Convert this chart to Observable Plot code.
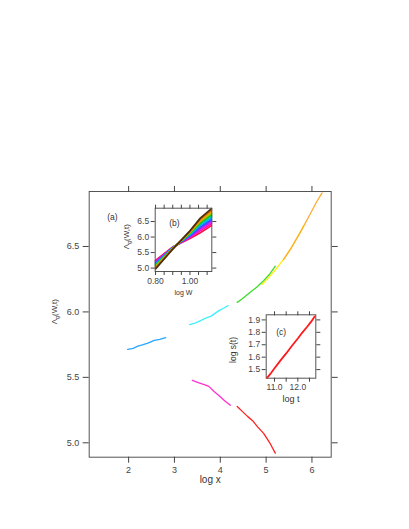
<!DOCTYPE html>
<html>
<head>
<meta charset="utf-8">
<script src="https://cdn.jsdelivr.net/npm/d3@7"></script>
<script src="https://cdn.jsdelivr.net/npm/@observablehq/plot@0.6"></script>
<style>
  html, body { margin: 0; padding: 0; background: #fff; }
  #wrap { position: relative; width: 409px; height: 529px; font-family: "Liberation Sans", Arial, sans-serif; }
  #wrap svg { position: absolute; overflow: visible; }
</style>
</head>
<body>
<div id="wrap"></div>
<script>
// ---------- main panel (a) ----------
const mainXTicks = [2, 3, 4, 5, 6];
const mainYTicks = [5.0, 5.5, 6.0, 6.5];

const blueX = [1.98, 2.10, 2.20, 2.30, 2.42, 2.56, 2.68, 2.81];
const blueY = [5.714, 5.722, 5.738, 5.748, 5.762, 5.783, 5.790, 5.803];
const cyanX = [3.33, 3.45, 3.58, 3.68, 3.80, 3.97, 4.08, 4.17];
const cyanY = [5.903, 5.915, 5.935, 5.953, 5.968, 6.010, 6.030, 6.048];
const greenX = [4.37, 4.48, 4.58, 4.66, 4.80, 4.95, 5.08, 5.20];
const greenY = [6.073, 6.100, 6.130, 6.152, 6.190, 6.240, 6.290, 6.349];
const yellowX = [4.91, 5.05, 5.20, 5.42, 5.60, 5.82];
const yellowY = [6.210, 6.260, 6.320, 6.420, 6.520, 6.660];
const orangeX = [5.38, 5.55, 5.75, 5.95, 6.10, 6.22];
const orangeY = [6.400, 6.490, 6.610, 6.740, 6.840, 6.910];
const magentaX = [3.39, 3.52, 3.65, 3.75, 3.87, 3.97, 4.10, 4.22];
const magentaY = [5.477, 5.460, 5.445, 5.431, 5.390, 5.362, 5.320, 5.286];
const redX = [4.37, 4.48, 4.60, 4.70, 4.82, 4.95, 5.09, 5.20];
const redY = [5.278, 5.240, 5.200, 5.171, 5.120, 5.070, 4.993, 4.921];

const mainSeries = [
  {name: "blue", xs: blueX, ys: blueY, color: "#2aa6ff"},
  {name: "cyan", xs: cyanX, ys: cyanY, color: "#3ff0ff"},
  {name: "green", xs: greenX, ys: greenY, color: "#3ddc2a"},
  {name: "yellow", xs: yellowX, ys: yellowY, color: "#ffee10"},
  {name: "orange", xs: orangeX, ys: orangeY, color: "#ffaa30"},
  {name: "magenta", xs: magentaX, ys: magentaY, color: "#ff30d0"},
  {name: "red", xs: redX, ys: redY, color: "#ff2020"}
];

// ---------- inset (b) ----------
const bX = [0.80, 0.90, 1.00, 1.06, 1.125];
const bAt080 = [5.25, 5.23, 5.20, 5.18, 5.15, 5.13, 5.11, 5.09, 5.07, 5.05, 5.03, 5.01, 4.99, 4.97];
const bAt090 = [5.68, 5.67, 5.67, 5.66, 5.66, 5.65, 5.65, 5.64, 5.64, 5.63, 5.63, 5.62, 5.62, 5.61];
const bAt100 = [5.95, 5.98, 6.01, 6.03, 6.05, 6.07, 6.09, 6.11, 6.13, 6.14, 6.16, 6.17, 6.19, 6.20];
const bAt106 = [6.14, 6.20, 6.25, 6.29, 6.33, 6.37, 6.41, 6.44, 6.47, 6.50, 6.53, 6.56, 6.59, 6.61];
const bAt112 = [6.37, 6.43, 6.48, 6.53, 6.57, 6.62, 6.66, 6.70, 6.74, 6.77, 6.81, 6.85, 6.88, 6.92];
const bColors = ["#ff1040", "#ff10a0", "#e810ff", "#8a30ff", "#2a55ff", "#0a9cff", "#00cccc",
                 "#00c860", "#2cb800", "#9cc800", "#e0b000", "#ff7a00", "#a85a10", "#4a3010"];
const bXTicks = [0.80, 0.85, 0.90, 0.95, 1.00, 1.05, 1.10];
const bXLabels = [0.80, 1.00];
const bYTicks = [5.0, 5.5, 6.0, 6.5];

// ---------- inset (c) ----------
const cT = [10.68, 10.85, 11.00, 11.25, 11.50, 11.75, 12.00, 12.20, 12.40, 12.58, 12.72];
const cS = [1.433, 1.472, 1.510, 1.572, 1.630, 1.692, 1.750, 1.800, 1.845, 1.888, 1.927];
const cXTicks = [11.0, 11.5, 12.0, 12.5];
const cXLabels = [11.0, 12.0];
const cYTicks = [1.5, 1.6, 1.7, 1.8, 1.9];

const FONT = '"Liberation Sans", Arial, sans-serif';
const wrap = document.getElementById("wrap");

function place(svg, left, top) {
  svg.style.left = left + "px";
  svg.style.top = top + "px";
  wrap.appendChild(svg);
  return svg;
}

function addYLabel(svg, cx, cy, size, parts) {
  const t = d3.select(svg).append("text")
    .attr("transform", `translate(${cx},${cy}) rotate(-90)`)
    .attr("text-anchor", "middle")
    .attr("dominant-baseline", "middle")
    .attr("fill", "#333")
    .style("font-size", size + "px")
    .style("font-family", FONT);
  for (const p of parts) {
    const s = t.append("tspan").text(p.text);
    if (p.sub) s.attr("baseline-shift", "sub").style("font-size", (size * 0.7) + "px");
  }
}

const lamParts = [{text: "\u039B"}, {text: "g", sub: true}, {text: "(W,t)"}];

// main
const mainRows = mainSeries.flatMap(s => s.xs.map((x, i) => ({series: s.name, x, y: s.ys[i], color: s.color})));
const main = Plot.plot({
  width: 409, height: 529,
  marginLeft: 88.7, marginRight: 78.3, marginTop: 191, marginBottom: 72.3,
  style: {fontFamily: FONT, fontSize: "9px", color: "#444", background: "transparent"},
  x: {domain: [1.14, 6.42]},
  y: {domain: [4.89, 6.92]},
  marks: [
    Plot.frame({stroke: "#555"}),
    Plot.axisX({anchor: "bottom", ticks: mainXTicks, tickSize: 6, tickPadding: 3, tickFormat: d3.format("d"), label: null}),
    Plot.axisX({anchor: "top", ticks: mainXTicks, tickSize: 6, tickFormat: () => "", label: null}),
    Plot.axisY({anchor: "left", ticks: mainYTicks, tickSize: 6, tickPadding: 4, tickFormat: d3.format(".1f"), label: null}),
    Plot.axisY({anchor: "right", ticks: mainYTicks, tickSize: 6, tickFormat: () => "", label: null}),
    Plot.line(mainRows, {x: "x", y: "y", z: "series", stroke: "color", strokeWidth: 1.3, curve: "linear"}),
    Plot.text(["log x"], {frameAnchor: "bottom", dy: 26, fontSize: 10, fill: "#333"}),
    Plot.text(["(a)"], {frameAnchor: "top-left", dx: 18, dy: 22, fontSize: 8.5, fill: "#333"})
  ]
});
place(main, 0, 0);
addYLabel(main, 55, 311.7, 8, lamParts);

// inset b
const bRows = bColors.flatMap((c, k) => bX.map((x, i) => ({k, x, y: [bAt080, bAt090, bAt100, bAt106, bAt112][i][k], color: c})));
const insetB = Plot.plot({
  width: 110, height: 105,
  marginLeft: 44.7, marginRight: 8.7, marginTop: 7.7, marginBottom: 34,
  style: {fontFamily: FONT, fontSize: "8.5px", color: "#444", background: "transparent"},
  x: {domain: [0.798, 1.127]},
  y: {domain: [4.89, 6.93]},
  marks: [
    Plot.line(bRows, {x: "x", y: "y", z: "k", stroke: "color", strokeWidth: 1.6}),
    Plot.frame({stroke: "#555"}),
    Plot.axisX({anchor: "bottom", ticks: bXTicks, tickSize: 4, tickPadding: 2,
      tickFormat: d => bXLabels.some(v => Math.abs(v - d) < 1e-9) ? d3.format(".2f")(d) : "", label: null}),
    Plot.axisX({anchor: "top", ticks: bXTicks, tickSize: 4, tickFormat: () => "", label: null}),
    Plot.axisY({anchor: "left", ticks: bYTicks, tickSize: 4, tickPadding: 2, tickFormat: d3.format(".1f"), label: null}),
    Plot.axisY({anchor: "right", ticks: bYTicks, tickSize: 4, tickFormat: () => "", label: null}),
    Plot.text(["log W"], {frameAnchor: "bottom", dy: 23, fontSize: 7, fill: "#333"}),
    Plot.text(["(b)"], {frameAnchor: "top-left", dx: 14, dy: 12, fontSize: 8.5, fill: "#333"})
  ]
});
place(insetB, 110, 200);
addYLabel(insetB, 16.7, 36.7, 8, lamParts);

// inset c
const cRows = cT.map((t, i) => ({t, s: cS[i]}));
const insetC = Plot.plot({
  width: 100, height: 110,
  marginLeft: 40.7, marginRight: 9.7, marginTop: 9.3, marginBottom: 37.3,
  style: {fontFamily: FONT, fontSize: "8.5px", color: "#444", background: "transparent"},
  x: {domain: [10.644, 12.77]},
  y: {domain: [1.4306, 1.941]},
  marks: [
    Plot.frame({stroke: "#555"}),
    Plot.axisX({anchor: "bottom", ticks: cXTicks, tickSize: 4, tickPadding: 2,
      tickFormat: d => cXLabels.some(v => Math.abs(v - d) < 1e-9) ? d3.format(".1f")(d) : "", label: null}),
    Plot.axisX({anchor: "top", ticks: cXTicks, tickSize: 4, tickFormat: () => "", label: null}),
    Plot.axisY({anchor: "left", ticks: cYTicks, tickSize: 4, tickPadding: 2, tickFormat: d3.format(".1f"), label: null}),
    Plot.axisY({anchor: "right", ticks: cYTicks, tickSize: 4, tickFormat: () => "", label: null}),
    Plot.line(cRows, {x: "t", y: "s", stroke: "#ff1a1a", strokeWidth: 1.8}),
    Plot.text(["log t"], {frameAnchor: "bottom", dy: 24, fontSize: 9, fill: "#333"}),
    Plot.text(["(c)"], {frameAnchor: "top-left", dx: 10, dy: 14, fontSize: 8.5, fill: "#333"})
  ]
});
place(insetC, 225, 305);
addYLabel(insetC, 9, 45, 8.5, [{text: "log s(t)"}]);
</script>
</body>
</html>
